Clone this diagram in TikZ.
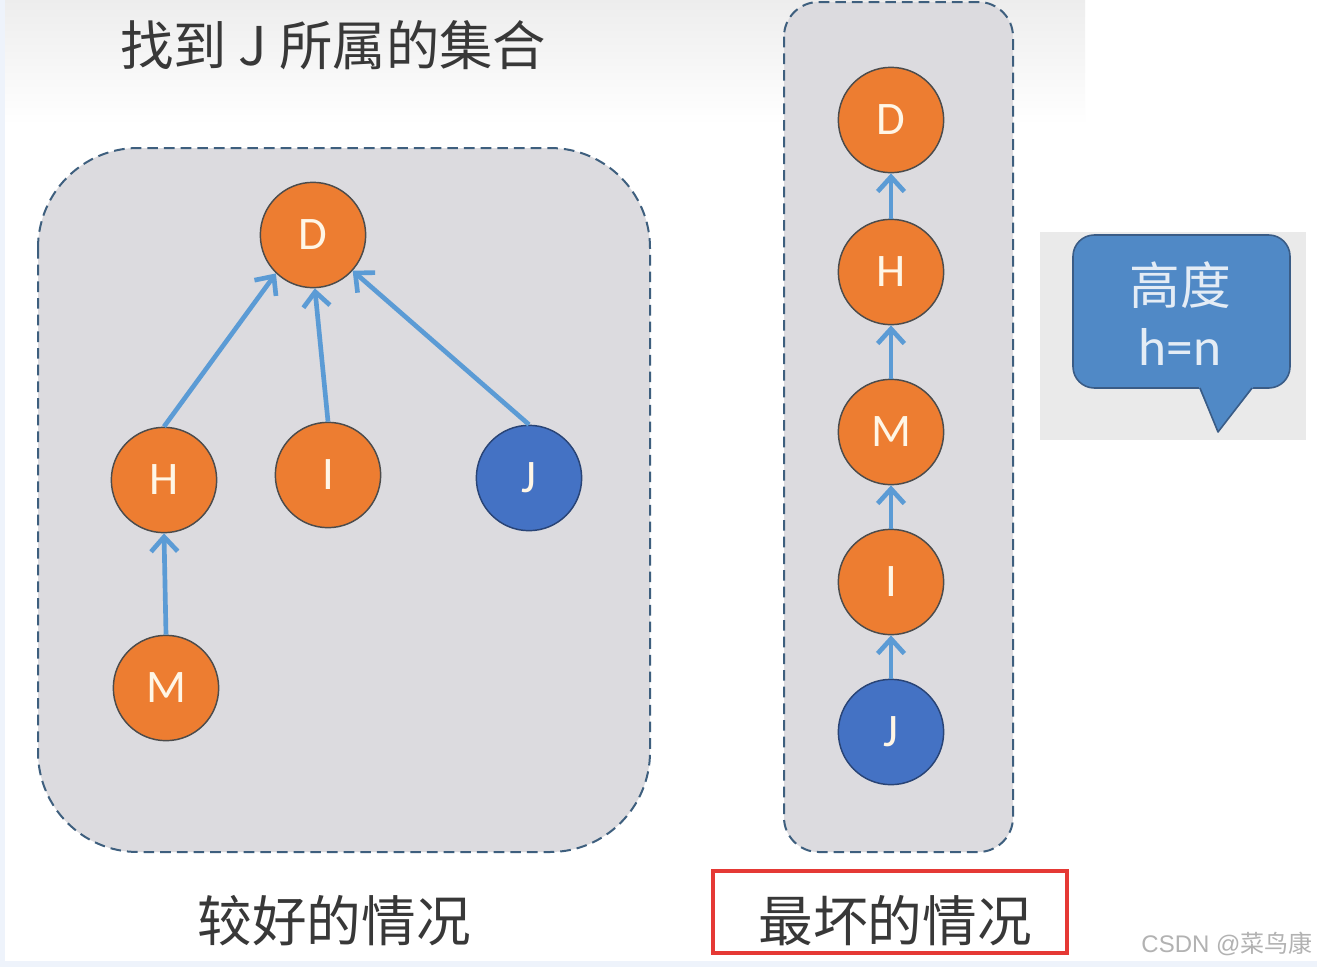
\documentclass[tikz,border=0pt]{standalone}
\usepackage{fontspec}
\setmainfont{Carlito}
\newfontfamily\cjk{Noto Sans CJK SC}
\newfontfamily\arialish{Liberation Sans}
\usetikzlibrary{arrows.meta}
\definecolor{boxfill}{HTML}{DCDBDF}
\definecolor{boxline}{HTML}{3E5F7E}
\definecolor{orangefill}{HTML}{ED7D31}
\definecolor{bluefill}{HTML}{4472C4}
\definecolor{arrowblue}{HTML}{5B9BD5}
\definecolor{lettercol}{HTML}{FFF6E6}
\definecolor{bubblefill}{HTML}{5089C6}
\definecolor{bubbleline}{HTML}{3A5C86}
\definecolor{bubbletext}{HTML}{E4ECF5}
\definecolor{panelgray}{HTML}{EAEAEA}
\definecolor{redframe}{HTML}{E53935}
\definecolor{edgeblue}{HTML}{EEF3FB}
\tikzset{
  setbox/.style={fill=boxfill, draw=boxline, line width=1.5pt, dash pattern=on 8pt off 4.5pt},
  vnode/.style={circle, minimum size=79pt, inner sep=0pt, draw=black!70, line width=1.1pt,
                font=\fontsize{35}{36}\selectfont, text=lettercol},
  onode/.style={vnode, fill=orangefill},
  bnode/.style={vnode, fill=bluefill, draw=bluefill!60!black},
  parent/.style={draw=arrowblue, line width=3.5pt,
                 -{Straight Barb[length=11pt,width=20pt,line width=3.5pt]}},
  cjktext/.style={font=\cjk\fontsize{40}{42}\selectfont, text=black!78, inner sep=0pt},
  bubbletxt/.style={text=bubbletext, inner sep=0pt}
}
\begin{document}
\begin{tikzpicture}[x=0.75pt,y=-0.75pt]
\useasboundingbox (0,0) rectangle (1317,967);
\fill[white] (0,0) rectangle (1317,967);
\shade[top color=black!7, bottom color=white] (0,0) rectangle (1085,125);
\fill[edgeblue] (0,0) rectangle (5,967);
\fill[edgeblue] (0,961) rectangle (1317,967);

% title
\node[cjktext, anchor=west] (title) at (120,45) {找到 J 所属的集合};

% left box
\draw[setbox, rounded corners=75pt] (38,148) rectangle (650,852);
\node[onode] (D1) at (313,235) {D};
\node[onode] (H1) at (164,480) {H};
\node[onode] (I1) at (328,475) {I};
\node[bnode] (J1) at (529,478) {J};
\node[onode] (M1) at (166,688) {M};
\draw[parent] (H1.north) -- (D1.226);
\draw[parent] (I1.north) -- (D1.272);
\draw[parent] (J1.north) -- (D1.318);
\draw[parent] (M1.north) -- (H1.south);

% right box
\draw[setbox, rounded corners=26pt] (784,2) rectangle (1013,852);
\node[onode] (D2) at (891,120) {D};
\node[onode] (H2) at (891,272) {H};
\node[onode] (M2) at (891,432) {M};
\node[onode] (I2) at (891,582) {I};
\node[bnode] (J2) at (891,732) {J};
\draw[parent] (H2.north) -- (D2.south);
\draw[parent] (M2.north) -- (H2.south);
\draw[parent] (I2.north) -- (M2.south);
\draw[parent] (J2.north) -- (I2.south);

% speech bubble
\fill[panelgray] (1040,232) rectangle (1306,440);
\node[draw=bubbleline, fill=bubblefill, line width=1.2pt, rounded corners=16pt,
      minimum width=162.75pt, minimum height=114.75pt, inner sep=0pt] (bubble) at (1181.5,311.5) {};
\fill[bubblefill] (1199,384) -- (1199,388) -- (1218,432) -- (1253,388) -- (1253,384) -- cycle;
\coordinate (tailL) at (1200,388);
\coordinate (tailP) at (1218,432);
\coordinate (tailR) at (1252,388);
\draw[bubbleline, line width=1.2pt, line join=round] (tailL) -- (tailP) -- (tailR);
\node[bubbletxt, font=\cjk\fontsize{38}{40}\selectfont] (height) at (1180,285) {高度};
\node[bubbletxt, font=\fontsize{40}{42}\selectfont] (hn) at (1180,347) {h=n};

% bottom labels
\node[cjktext, font=\cjk\fontsize{41}{43}\selectfont] (good) at (334,921) {较好的情况};
\node[cjktext, font=\cjk\fontsize{41}{43}\selectfont] (worst) at (895,921) {最坏的情况};
\draw[redframe, line width=2.5pt] (713,871) rectangle (1067,953);
\node[font=\fontsize{18}{19}\selectfont\arialish, text=black!30, inner sep=0pt] (mark) at (1227,944)
  {CSDN @{\cjk 菜鸟康}};
\end{tikzpicture}
\end{document}
